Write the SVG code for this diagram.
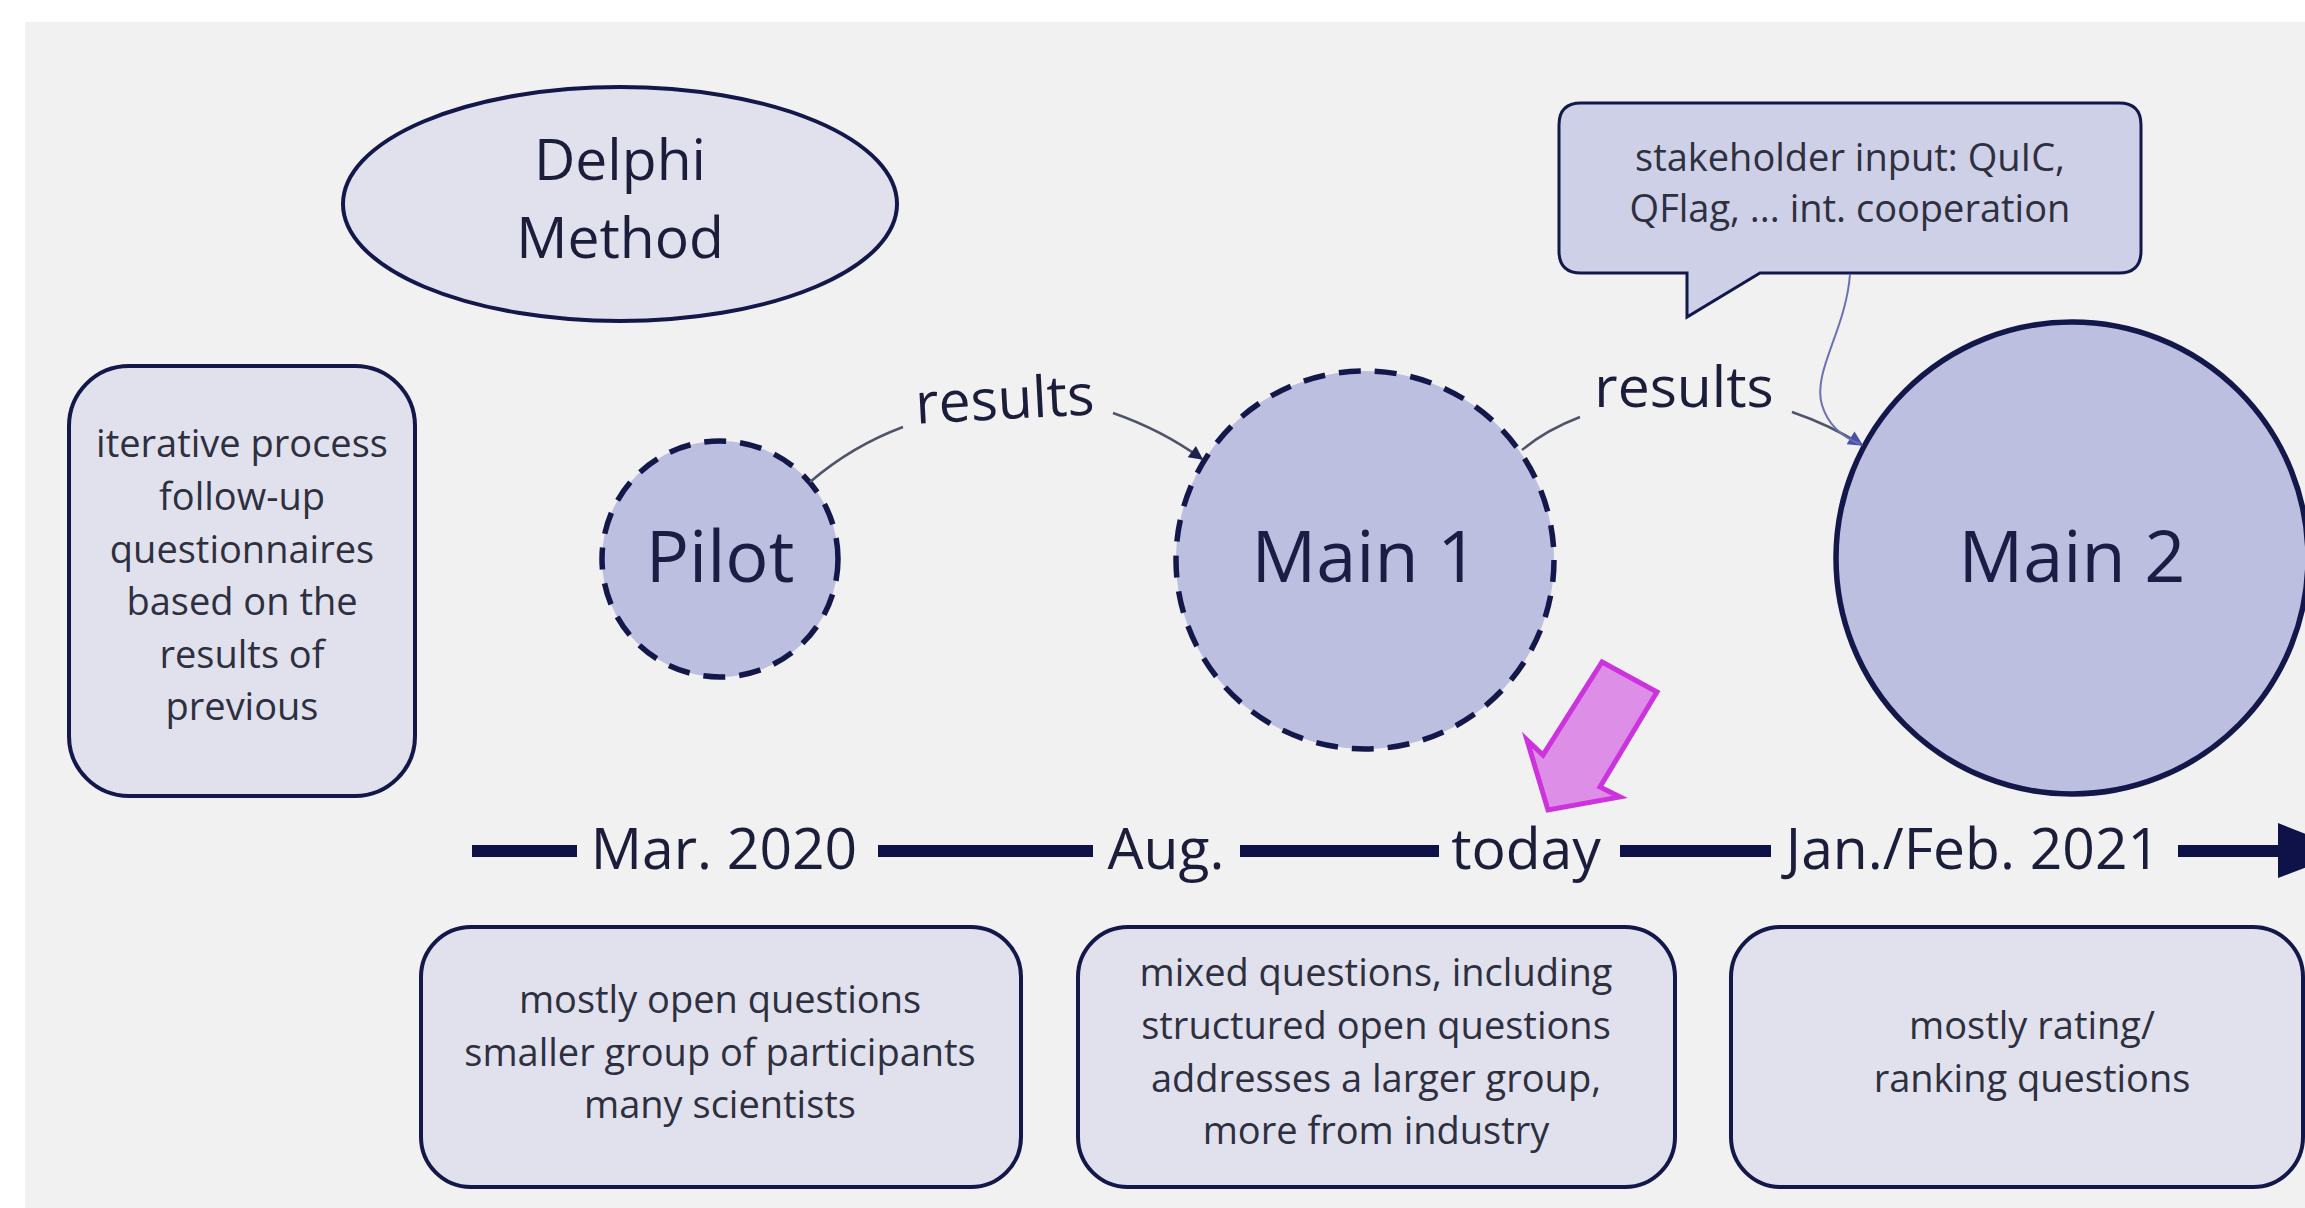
<svg xmlns="http://www.w3.org/2000/svg" width="2305" height="1208" viewBox="0 0 2305 1208">
  <style>
    .lbl { font-family: "Open Sans", "Noto Sans", "DejaVu Sans", sans-serif; text-anchor: middle; }
    .small { font-size: 38px; fill: #2e2f3f; }
    .mid { font-size: 57px; fill: #1c1d3a; }
    .big { font-size: 72px; fill: #1b1d45; }
    .box { fill: #e0e1ec; stroke: #14174a; stroke-width: 4; }
    .circ { fill: #bcbfdf; stroke: #14174a; stroke-width: 5.5; }
    .dash { stroke-dasharray: 22 14; }
    .conn { fill: none; stroke: #50546a; stroke-width: 2.5; }
    .tl { stroke: #0f1248; stroke-width: 12; }
  </style>
  <defs>
    <marker id="arrDark" viewBox="0 0 10 10" refX="9" refY="5" markerWidth="18" markerHeight="14" markerUnits="userSpaceOnUse" orient="auto">
      <path d="M0,0 L10,5 L0,10 Z" fill="#1e2150"/>
    </marker>
    <marker id="arrBlue" viewBox="0 0 10 10" refX="9" refY="5" markerWidth="20" markerHeight="15" markerUnits="userSpaceOnUse" orient="auto">
      <path d="M0,0 L10,5 L0,10 Z" fill="#4a4fa8"/>
    </marker>
  </defs>

  <rect x="0" y="0" width="2305" height="1208" fill="#ffffff"/>
  <rect x="25" y="22" width="2280" height="1186" fill="#f1f1f1"/>

  <g id="delphi">
    <ellipse cx="620" cy="204" rx="277" ry="117" class="box"/>
    <text class="lbl mid" x="620" y="180">Delphi</text>
    <text class="lbl mid" x="620" y="258">Method</text>
  </g>

  <g id="iterative">
    <rect x="69" y="366" width="346" height="430" rx="60" class="box"/>
    <text class="lbl small" x="242" y="457">iterative process</text>
    <text class="lbl small" x="242" y="510">follow-up</text>
    <text class="lbl small" x="242" y="563">questionnaires</text>
    <text class="lbl small" x="242" y="615">based on the</text>
    <text class="lbl small" x="242" y="668">results of</text>
    <text class="lbl small" x="242" y="720">previous</text>
  </g>

  <g id="bubble">
    <path d="M1581,103 H2119 Q2141,103 2141,125 V251 Q2141,273 2119,273 H1760 L1687,317 L1687,273 H1581 Q1559,273 1559,251 V125 Q1559,103 1581,103 Z" fill="#cdd0e6" stroke="#14174a" stroke-width="3"/>
    <text class="lbl small" x="1850" y="171">stakeholder input: QuIC,</text>
    <text class="lbl small" x="1850" y="222">QFlag, ... int. cooperation</text>
  </g>

  <g id="pilot">
    <circle cx="720" cy="559" r="118" class="circ dash"/>
    <text class="lbl big" x="720" y="582">Pilot</text>
  </g>

  <g id="main1">
    <circle cx="1365" cy="560" r="189" class="circ dash"/>
    <text class="lbl big" x="1365" y="582">Main 1</text>
  </g>

  <g id="main2">
    <circle cx="2072" cy="558" r="236" class="circ"/>
    <text class="lbl big" x="2072" y="582">Main 2</text>
  </g>

  <g id="connectors">
    <path class="conn" d="M810,482 Q852,446 903,427"/>
    <path class="conn" d="M1113,413 Q1162,430 1202,459" marker-end="url(#arrDark)"/>
    <path class="conn" d="M1522,450 Q1546,430 1580,417"/>
    <path class="conn" d="M1792,412 Q1830,425 1862,445" marker-end="url(#arrBlue)"/>
    <path d="M1850,274 C1846,330 1812,372 1822,405 Q1830,432 1860,444" fill="none" stroke="#6b70b4" stroke-width="2"/>
    <text class="lbl mid" x="1005" y="419" transform="rotate(-3 1005 405)">results</text>
    <text class="lbl mid" x="1684" y="407">results</text>
  </g>

  <g id="timeline">
    <line class="tl" x1="472" y1="851" x2="577" y2="851"/>
    <line class="tl" x1="878" y1="851" x2="1093" y2="851"/>
    <line class="tl" x1="1240" y1="851" x2="1439" y2="851"/>
    <line class="tl" x1="1620" y1="851" x2="1771" y2="851"/>
    <line class="tl" x1="2178" y1="851" x2="2282" y2="851"/>
    <polygon points="2278,823 2349,851 2278,878" fill="#0f1248"/>
    <text class="lbl mid" x="724" y="869">Mar. 2020</text>
    <text class="lbl mid" x="1166" y="869">Aug.</text>
    <text class="lbl mid" x="1526" y="869">today</text>
    <text class="lbl mid" x="1973" y="869">Jan./Feb. 2021</text>
  </g>

  <g id="today-pointer">
    <polygon points="1602,662 1657,692 1600,787 1620,797 1548,810 1527,740 1543,755" fill="#dd8ee6" stroke="#cc33dd" stroke-width="5" stroke-linejoin="miter"/>
  </g>

  <g id="box-pilot">
    <rect x="421" y="927" width="600" height="260" rx="50" class="box"/>
    <text class="lbl small" x="720" y="1013">mostly open questions</text>
    <text class="lbl small" x="720" y="1066">smaller group of participants</text>
    <text class="lbl small" x="720" y="1118">many scientists</text>
  </g>

  <g id="box-main1">
    <rect x="1078" y="927" width="597" height="260" rx="50" class="box"/>
    <text class="lbl small" x="1376" y="986">mixed questions, including</text>
    <text class="lbl small" x="1376" y="1039">structured open questions</text>
    <text class="lbl small" x="1376" y="1092">addresses a larger group,</text>
    <text class="lbl small" x="1376" y="1144">more from industry</text>
  </g>

  <g id="box-main2">
    <rect x="1731" y="927" width="572" height="260" rx="50" class="box"/>
    <text class="lbl small" x="2032" y="1039">mostly rating/</text>
    <text class="lbl small" x="2032" y="1092">ranking questions</text>
  </g>
</svg>
